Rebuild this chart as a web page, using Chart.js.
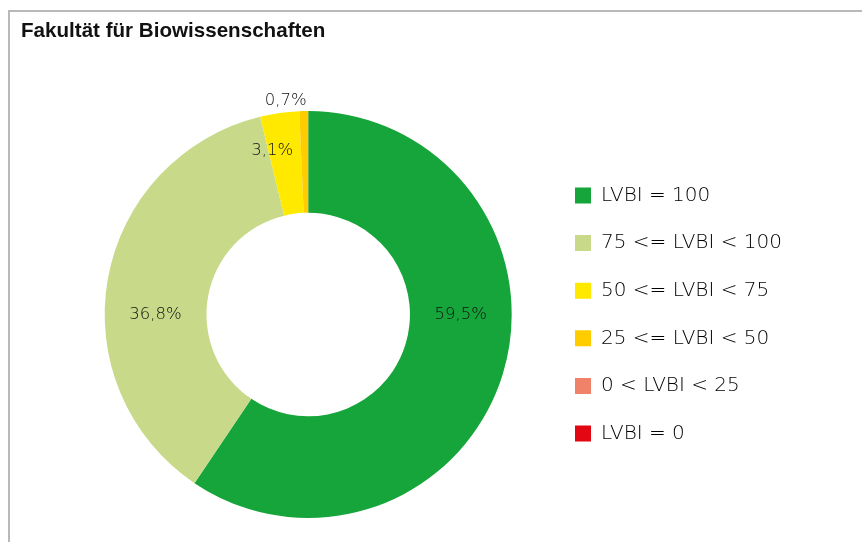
<!DOCTYPE html>
<html>
<head>
<meta charset="utf-8">
<script src="https://cdn.jsdelivr.net/npm/chart.js@4"></script>
<style>
  html, body { margin: 0; padding: 0; background: #ffffff; }
  #wrap { position: relative; width: 862px; height: 542px; overflow: hidden; }
  #frame {
    position: absolute; left: 8px; top: 10px; right: -4px; bottom: -4px;
    border-top: 2px solid #b9b9b9; border-left: 2px solid #b9b9b9;
  }
  canvas { position: absolute; left: 0; top: 0; }
</style>
</head>
<body>
<div id="wrap">
  <div id="frame"></div>
  <canvas id="lvbi-chart" width="862" height="542"></canvas>
</div>
<script>
// data
const chartTitle = "Fakultät für Biowissenschaften";
const categories = [
  "LVBI = 100",
  "75 <= LVBI < 100",
  "50 <= LVBI < 75",
  "25 <= LVBI < 50",
  "0 < LVBI < 25",
  "LVBI = 0",
];
const shares = [59.5, 36.8, 3.1, 0.7, 0, 0];

// colours
const sliceColors = ["#16a53a", "#c8d98a", "#ffe900", "#ffcc00", "#f0826a", "#e30613"];
const TEXT_COLOR = "#000000";
const LABEL_FONT = "'DejaVu Sans', sans-serif";

// legend metrics
const LEGEND_FONT_SIZE = 20;
const LEGEND_BOX = 16;
const LEGEND_PAD = 27.6;
const LEGEND_BOX_X = 575; // where the legend squares start

// where each percentage label sits: angle (deg, clockwise from top),
// and position across the ring (0 = inner edge, 1 = outer edge)
const labelSpots = [
  { a: 90, r: 0.5 },
  { a: 270, r: 0.5 },
  { a: 347.6, r: 0.65 },
  { a: 354, r: 1.11 },
];

function fmtPct(v) {
  return v.toFixed(1).replace(".", ",") + "%";
}

const canvas = document.getElementById("lvbi-chart");
const ctx = canvas.getContext("2d");

// measure the longest legend text so the legend lands where the reference has it
ctx.font = "200 " + LEGEND_FONT_SIZE + "px " + LABEL_FONT;
let longest = 0;
categories.forEach(function (c) {
  longest = Math.max(longest, ctx.measureText(c).width);
});
const legendWidth = LEGEND_PAD + LEGEND_BOX + LEGEND_FONT_SIZE / 2 + longest + 10;
const rightPad = Math.max(0, 862 - (LEGEND_BOX_X - LEGEND_PAD) - legendWidth);

const titlePlugin = {
  id: "leftTitle",
  afterDraw(chart) {
    const c = chart.ctx;
    c.save();
    c.fillStyle = "#111111";
    c.font = "bold 20.6px 'Liberation Sans', Arial, sans-serif";
    c.textAlign = "left";
    c.textBaseline = "alphabetic";
    c.fillText(chartTitle, 21, 37);
    c.restore();
  },
};

const pctLabels = {
  id: "pctLabels",
  afterDatasetsDraw(chart) {
    const c = chart.ctx;
    const meta = chart.getDatasetMeta(0);
    c.save();
    c.fillStyle = "#111111";
    c.font = "200 16.5px " + LABEL_FONT;
    c.textAlign = "center";
    c.textBaseline = "middle";
    meta.data.forEach(function (arc, i) {
      const v = shares[i];
      if (!v) return;
      const p = arc.getProps(["x", "y", "innerRadius", "outerRadius"], true);
      const spot = labelSpots[i] || { a: 0, r: 0.5 };
      const rad = p.innerRadius + (p.outerRadius - p.innerRadius) * spot.r;
      const ang = (spot.a * Math.PI) / 180;
      c.fillText(fmtPct(v), p.x + rad * Math.sin(ang), p.y - rad * Math.cos(ang));
    });
    c.restore();
  },
};

new Chart(ctx, {
  type: "doughnut",
  data: {
    labels: categories,
    datasets: [
      {
        data: shares,
        backgroundColor: sliceColors,
        borderWidth: 0,
      },
    ],
  },
  options: {
    responsive: false,
    animation: false,
    devicePixelRatio: 1,
    cutout: "50%",
    layout: {
      padding: { left: 69, right: rightPad, top: 111, bottom: 24 },
    },
    plugins: {
      title: { display: false },
      tooltip: { enabled: false },
      legend: {
        display: true,
        position: "right",
        labels: {
          color: TEXT_COLOR,
          boxWidth: LEGEND_BOX,
          boxHeight: LEGEND_BOX,
          padding: LEGEND_PAD,
          font: { family: LABEL_FONT, size: LEGEND_FONT_SIZE, weight: "200" },
        },
      },
    },
  },
  plugins: [titlePlugin, pctLabels],
});
</script>
</body>
</html>
